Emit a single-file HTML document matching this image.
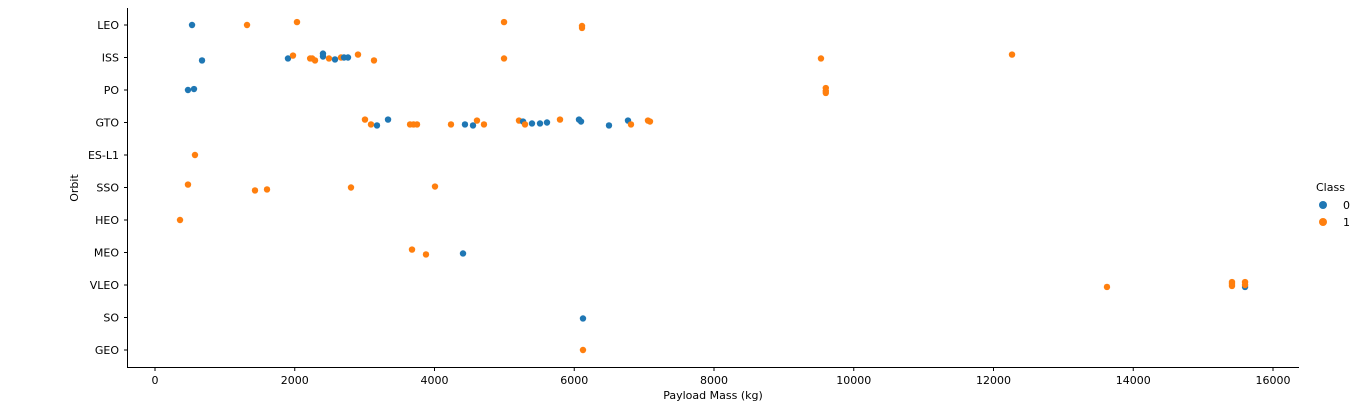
<!DOCTYPE html>
<html><head><meta charset="utf-8"><style>
body{margin:0;background:#fff;font-family:"Liberation Sans","DejaVu Sans",sans-serif}
svg text{font-family:"DejaVu Sans","Liberation Sans",sans-serif;font-size:11px;fill:#000}
</style></head><body>
<svg id="chart" width="1369" height="401" xmlns="http://www.w3.org/2000/svg">
<g id="axes"></g><g id="marks"></g>
<g>
<text x="1316" y="191">Class</text>
<circle cx="1323" cy="205" r="4" fill="#1f77b4"/>
<text x="1343" y="209">0</text>
<circle cx="1323" cy="222" r="4" fill="#ff7f0e"/>
<text x="1343" y="226">1</text>
</g>
</svg>
<script>
const categories=["LEO","ISS","PO","GTO","ES-L1","SSO","HEO","MEO","VLEO","SO","GEO"];
const xTicks=[0,2000,4000,6000,8000,10000,12000,14000,16000];
const payload=[530,1317,2032,4995,6111,6111,
673,1903,1975,2220,2250,2290,2404,2404,2490,2576,2662,2705,2762,2905,3134,4995,9531,12265,
472,558,9600,9600,9600,
3005,3091,3177,3335,3650,3700,3750,4236,4436,4551,4608,4708,5209,5267,5295,5395,5510,5610,5796,6068,6097,6497,6769,6812,7055,7084,
572,
472,1431,1603,2805,4007,
358,
3678,3878,4408,
13624,15413,15413,15413,15600,15600,15600,
6125,
6125];
const orbit=["LEO","LEO","LEO","LEO","LEO","LEO",
"ISS","ISS","ISS","ISS","ISS","ISS","ISS","ISS","ISS","ISS","ISS","ISS","ISS","ISS","ISS","ISS","ISS","ISS",
"PO","PO","PO","PO","PO",
"GTO","GTO","GTO","GTO","GTO","GTO","GTO","GTO","GTO","GTO","GTO","GTO","GTO","GTO","GTO","GTO","GTO","GTO","GTO","GTO","GTO","GTO","GTO","GTO","GTO","GTO",
"ES-L1",
"SSO","SSO","SSO","SSO","SSO",
"HEO",
"MEO","MEO","MEO",
"VLEO","VLEO","VLEO","VLEO","VLEO","VLEO","VLEO",
"SO",
"GEO"];
const cls=[0,1,1,1,1,1,
0,0,1,1,1,1,0,0,1,0,1,0,0,1,1,1,1,1,
0,0,1,1,1,
1,1,0,0,1,1,1,1,0,0,1,1,1,0,1,0,0,0,1,0,0,0,0,1,1,1,
1,
1,1,1,1,1,
1,
1,1,0,
1,1,1,1,0,1,1,
0,
1];
const jitter=[0,0,-0.09,-0.09,0.03,0.09,
0.09,0.03,-0.06,0.03,0.03,0.09,-0.03,-0.12,0.03,0.06,0,0,0,-0.09,0.09,0.03,0.03,-0.09,
0,-0.03,-0.06,0.03,0.09,
-0.09,0.06,0.09,-0.09,0.06,0.06,0.06,0.06,0.06,0.09,-0.06,0.06,-0.06,-0.03,0.06,0.03,0.03,0,-0.09,-0.09,-0.03,0.09,-0.06,0.06,-0.06,-0.03,
0,
-0.09,0.09,0.06,0,-0.03,
0,
-0.09,0.06,0.03,
0.06,-0.09,-0.03,0.03,0.06,-0.09,0,
0.03,
0];
const NS="http://www.w3.org/2000/svg";
const X0=155,XS=(1273-155)/16000,Y0=25,YS=32.5;
const xs=v=>X0+v*XS, ys=i=>Y0+i*YS;
function mk(t,a,p){const e=document.createElementNS(NS,t);for(const k in a)e.setAttribute(k,a[k]);p.appendChild(e);return e;}
const ax=document.getElementById('axes'),mg=document.getElementById('marks');
let l=mk('line',{x1:127.5,y1:8,x2:127.5,y2:367.5,stroke:'#000','stroke-width':1},ax);


l=mk('line',{x1:127,y1:367.5,x2:1299,y2:367.5,stroke:'#000','stroke-width':1},ax);


xTicks.forEach(t=>{const x=xs(t);
 mk('line',{x1:x,y1:367.5,x2:x,y2:371,stroke:'#000'},ax);
 const tx=mk('text',{x:x,y:384,'text-anchor':'middle'},ax);tx.textContent=t;
 
 });
categories.forEach((c,i)=>{const y=ys(i);
 mk('line',{x1:124,y1:y,x2:127.5,y2:y,stroke:'#000'},ax);
 const tx=mk('text',{x:119,y:y+4,'text-anchor':'end'},ax);tx.textContent=c;
 
 });
let t=mk('text',{x:713,y:399,'text-anchor':'middle'},ax);t.textContent='Payload Mass (kg)';


t=mk('text',{x:78,y:188,'text-anchor':'middle',transform:'rotate(-90 78 188)'},ax);t.textContent='Orbit';


payload.forEach((v,k)=>{const i=categories.indexOf(orbit[k]);
 const c=mk('circle',{cx:xs(v),cy:ys(i+jitter[k]),r:3.2,fill:cls[k]?'#ff7f0e':'#1f77b4'},mg);
 
 });
</script>
</body></html>
